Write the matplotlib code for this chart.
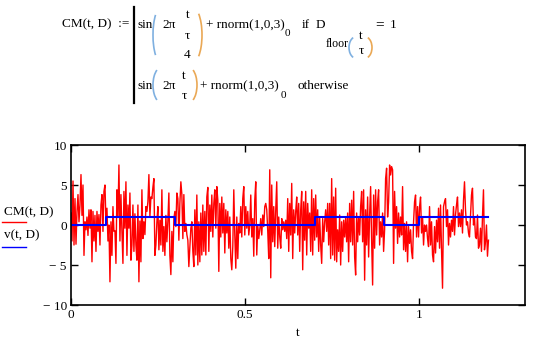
import numpy as np
import matplotlib
matplotlib.use("Agg")
import matplotlib.pyplot as plt
from matplotlib.lines import Line2D
from matplotlib.patches import Arc

W, H = 535, 344
SERIF = "Liberation Serif"

# CM(t,D), one sample per screen pixel from t=0 to t=1.2
cm = [
    1.5, -2.0, 5.5, -2.5, 3.3, -2.4, 1.7, 3.8, 0.4, 2.5, 6.3, 1.2, 5.0, -3.8, 0.4, -0.6,
    1.0, -1.3, 1.9, -0.4, 1.9, -4.6, 1.7, -2.0, 1.2, -3.3, 1.7, -0.8, 1.3, -2.5, 2.5, 3.8,
    -0.8, 4.2, 5.0, 0.4, 2.1, -2.0, 0.0, -7.1, 0.4, -3.8, 2.3, -0.8, -0.7, -4.8, 4.4, 1.0,
    7.5, -2.0, 3.8, -0.8, -4.8, 4.2, -0.4, 5.4, -3.8, 2.5, -0.4, 4.0, -4.4,
    -2.5, 2.5, -3.3, 1.4, -2.5, -4.4, 2.5, -7.1, 0.5, -4.6, 4.4, -1.7, 0.4, -1.2, 2.3, 1.7,
    2.9, 6.3, 1.0, 3.5, 3.3, 4.7, 5.8, -3.8, -2.5, 0.4, 2.3, -3.1, 0.6, -2.5, 4.4, -3.3,
    -0.2, -3.8, 1.2, -2.1, 0.5, 4.0, -3.8, -6.2, -0.8, -4.6, 0.8, 1.7, -0.2, 4.0, 3.3, -1.9,
    2.7, 5.4, 3.8, -1.7, 3.8, -0.8, 0.2, -1.2, -1.9, -5.2, -2.9, -0.4,
    0.4, -3.3, -5.2, 1.9, -3.75, 3.75, -5.0, 0.4, -4.6, 1.5, -3.75, 2.5, -3.3, 1.7, -3.75, 3.5,
    4.7, -3.3, 2.5, -0.8, 3.75, -1.5, 2.7, 4.4, -0.4, 4.8, 3.1, -5.8, 2.7, -1.5, 3.5, -1.0,
    2.7, -3.5, 1.9, -1.0, 1.7, -2.9, 1.0, -4.2, -5.6, -2.7, 4.4, -1.25, -5.4, 1.0, -4.2, 0.2,
    -1.0, 2.3, -1.5, 3.3, 4.8, -1.25, 2.3, -0.4, 1.7, -1.25, 0.0, 3.75,
    -1.5, 0.8, -3.9, 3.1, 5.4, -3.75, 0.0, -1.7, -0.6, 0.8, -1.25, 1.25, -0.2, 2.3, 2.7, 1.9,
    -0.8, -4.2, 6.9, -6.6, 5.0, -2.1, 2.3, -2.7, 1.9, 5.4, -2.9, 1.0, -1.5, -2.9, 0.8, -0.6,
    0.4, -0.8, 0.6, -1.7, 3.3, -3.3, 2.7, -1.25, 5.2, -4.2, 1.9, -1.0, 1.7, 3.5, -1.25, 2.7,
    -3.3, 1.9, 4.2, -5.6, 2.9, -1.9, 4.2, -3.75, 2.7, -0.4, 1.5, -3.3,
    4.4, -3.75, 3.3, -1.9, 3.75, -1.5, 1.9, -3.3, 1.0, -2.5, -4.8, 0.8, -2.1, 0.4, 1.9, -0.8,
    2.7, -2.5, 2.7, -4.2, 5.8, -3.75, 3.5, -4.4, 4.6, -4.6, -0.6, -3.3, 1.25, -5.0, 0.4, -3.3,
    0.6, -1.5, 1.0, -2.1, 1.5, -4.6, 2.7, -2.1, 3.1, -2.5, 4.2, -4.0, -6.25, 1.5, -2.1, 1.0,
    -1.25, 2.3, 4.2, -2.1, 4.4, -6.9, 1.9, -2.5, 3.5, -4.0, 1.25, 4.8,
    -1.9, -7.5, 3.75, -2.9, 4.4, -1.25, 2.9, 4.4, -2.5, 0.4, -1.5, 1.5, -3.3, -0.6, 5.8, 7.1,
    1.0, 2.9, 7.5, 6.25, 7.3, 6.9, -4.8, 4.2, -0.4, 2.3, -2.3, 1.5, -1.5, 1.0, -1.25, 4.8,
    -3.1, 0.2, -3.3, 0.4, -4.6, -0.2, -2.3, -0.6, -3.3, -4.2, 0.4, 2.9, 3.75, -1.5, 2.3, -1.5,
    2.3, 3.5, -1.0, 1.0, -2.5, 0.0, -0.8, 0.0, -1.7, -2.7, 2.3, -2.5,
    0.4, -3.75, -4.6, -0.2, -3.5, 0.6, -2.1, 2.1, -2.9, 2.5, -3.1, -7.9, 2.3, 2.9, 3.3, -0.2,
    1.9, -2.5, 0.2, -1.5, 0.6, -0.8, 2.3, -1.25, 1.25, 2.5, 3.5, -0.2, 1.5, -0.2, 1.9, -1.0,
    3.1, 5.4, 1.9, 0.0, 0.4, -1.0, -1.5, 1.0, 3.75, 4.6, 0.0, 1.0, -1.5, -1.7, 1.25, -2.9,
    -2.5, -0.4, -3.3, 1.0, 4.4, -3.1, -2.1, 0.0, -3.9, -1.9,
]
t_end = 1.2

# v(t,D): D per interval of tau
tau = 0.1
D = [0, 1, 1, 0, 0, 0, 0, 1, 1, 0, 1, 1]

x_ticks = [0, 0.5, 1]
x_ticklabels = ["0", "0.5", "1"]
y_ticks = [-10, -5, 0, 5, 10]
y_ticklabels = ["\u2212 10", "\u2212 5", "0", "5", "10"]


def fx(x):
    return x / W


def fy(y):
    return 1 - y / H


def put(x, y, s, size=9.5, **kw):
    kw.setdefault("ha", "left")
    kw.setdefault("va", "center")
    fig.text(fx(x), fy(y), s, fontsize=size, fontfamily=SERIF, **kw)


def paren(x0, x1, y0, y1, left, color):
    # thin elongated parenthesis spanning the pixel box
    w = 2 * (x1 - x0) * 1.15
    h = (y1 - y0) * 1.02
    yc = (y0 + y1) / 2
    if left:
        xc, th = x0 + w / 2, (100, 260)
    else:
        xc, th = x1 - w / 2, (-80, 80)
    fig.add_artist(Arc((fx(xc), fy(yc)), w / W, h / H, theta1=th[0], theta2=th[1],
                       transform=fig.transFigure, color=color, lw=1.2))


fig = plt.figure(figsize=(W / 100, H / 100), dpi=100)
fig.patch.set_facecolor("white")

# ---- formula block ----
BLUE_P = "#7fb0e0"
ORANGE_P = "#eaa855"
put(62, 24, "CM(t, D)  :=")
fig.add_artist(Line2D([fx(134), fx(134)], [fy(7), fy(103)], color="black", lw=1.6,
                      transform=fig.transFigure))
# line 1
put(137, 25, "sin")
paren(153, 160, 8, 62, True, BLUE_P)
put(162, 25, "2\u03c0")
put(187.5, 15, "t", ha="center")
put(187.5, 36, "\u03c4", ha="center")
put(187.5, 55, "4", ha="center")
paren(194, 202, 8, 62, False, ORANGE_P)
put(206, 25, "+ rnorm(1,0,3)")
put(285, 33, "0", size=8)
put(302, 25, "if")
put(316, 25, "D")
put(326, 44, "floor", size=8.5)
paren(349, 355, 37, 58, True, BLUE_P)
put(361, 36, "t", ha="center")
put(361, 51, "\u03c4", ha="center")
paren(366, 372, 37, 58, False, ORANGE_P)
put(375, 25, "=", size=11, fontweight="bold")
put(390, 25, "1")
# line 2
put(137, 86, "sin")
paren(153, 160, 68, 102, True, BLUE_P)
put(162, 86, "2\u03c0")
put(184, 76, "t", ha="center")
put(184, 96, "\u03c4", ha="center")
paren(190, 197, 68, 102, False, ORANGE_P)
put(200, 86, "+ rnorm(1,0,3)")
put(281, 95, "0", size=8)
put(297, 86, "otherwise")

# ---- plot ----
ax = fig.add_axes([fx(71), fy(305), (525 - 71) / W, (305 - 145) / H])
t = np.linspace(0, t_end, len(cm))
ax.plot(t, cm, color="#ff0000", lw=1.0)

edges = [i * tau for i in range(len(D) + 1)]
ax.step(edges, D + [D[-1]], where="post", color="#0000ff", lw=1.5)

ax.set_xlim(0, 1.305)
ax.set_ylim(-10, 10)
ax.set_xticks(x_ticks)
ax.set_xticklabels(x_ticklabels, fontfamily=SERIF, fontsize=9.5)
ax.set_yticks(y_ticks)
ax.set_yticklabels(y_ticklabels, fontfamily=SERIF, fontsize=9.5)
ax.tick_params(direction="in", length=5, width=1.0, top=True, right=True, pad=3,
               colors="black")
for s in ax.spines.values():
    s.set_linewidth(1.2)
ax.set_xlabel("t", fontfamily=SERIF, fontsize=9.5, labelpad=4)

# left-hand legend labels with coloured underlines
put(4, 212, "CM(t, D)")
fig.add_artist(Line2D([fx(2), fx(26)], [fy(222), fy(222)], color="#ff0000", lw=1.0,
                      transform=fig.transFigure))
put(4, 235, "v(t, D)")
fig.add_artist(Line2D([fx(2), fx(26)], [fy(247), fy(247)], color="#0000ff", lw=1.0,
                      transform=fig.transFigure))

fig.savefig("out.png", dpi=100)
